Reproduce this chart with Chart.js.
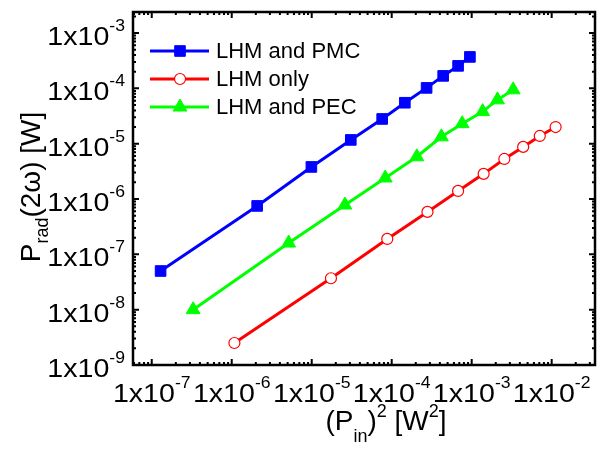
<!DOCTYPE html>
<html>
<head>
<meta charset="utf-8">
<script src="https://cdn.jsdelivr.net/npm/chart.js@4/dist/chart.umd.min.js"></script>
<style>
  html, body { margin: 0; padding: 0; background: #fff; }
  #wrap { width: 604px; height: 450px; }
</style>
</head>
<body>
<div id="wrap"><canvas id="c" width="604" height="450"></canvas></div>
<script>
// data: (P_in)^2 [W^2] vs P_rad(2w) [W]
const pmcX = [1.29e-7, 2.08e-6, 9.9e-6, 3.08e-5, 7.6e-5, 1.46e-4, 2.73e-4, 4.4e-4, 6.76e-4, 9.5e-4];
const pmcY = [5.0e-8, 7.5e-7, 3.8e-6, 1.17e-5, 2.8e-5, 5.5e-5, 1.02e-4, 1.68e-4, 2.55e-4, 3.7e-4];

const onlyX = [1.08e-6, 1.74e-5, 8.8e-5, 2.8e-4, 6.76e-4, 1.41e-3, 2.56e-3, 4.4e-3, 7.1e-3, 1.12e-2];
const onlyY = [2.5e-9, 3.7e-8, 1.9e-7, 5.85e-7, 1.4e-6, 2.85e-6, 5.3e-6, 8.75e-6, 1.38e-5, 2.0e-5];

const pecX = [3.29e-7, 5.15e-6, 2.6e-5, 8.3e-5, 2.06e-4, 4.18e-4, 7.6e-4, 1.37e-3, 2.1e-3, 3.3e-3];
const pecY = [1.0e-8, 1.6e-7, 7.8e-7, 2.4e-6, 5.8e-6, 1.33e-5, 2.3e-5, 3.8e-5, 6.2e-5, 9.4e-5];

const seriesNames = ['LHM and PMC', 'LHM only', 'LHM and PEC'];
const xTickExps = [-7, -6, -5, -4, -3, -2];
const yTickExps = [-9, -8, -7, -6, -5, -4, -3];

const FONT = '"Liberation Sans", Arial, Helvetica, sans-serif';

function pts(xs, ys) {
    return xs.map((x, i) => ({ x: x, y: ys[i] }));
}

// draws a list of text pieces [{t, size, dy}] one after another,
// sx stretches the text sideways (the tick labels in the figure are a bit wide)
function richWidth(ctx, parts) {
    let w = 0;
    parts.forEach(p => {
        ctx.font = p.size + 'px ' + FONT;
        w += ctx.measureText(p.t).width;
    });
    return w;
}
function drawRich(ctx, parts, x, y, align, sx) {
    sx = sx || 1;
    const w = richWidth(ctx, parts) * sx;
    let x0 = x;
    if (align === 'center') x0 = x - w / 2;
    if (align === 'right') x0 = x - w;
    ctx.save();
    ctx.translate(x0, y);
    ctx.scale(sx, 1);
    ctx.textAlign = 'left';
    ctx.textBaseline = 'alphabetic';
    let cx = 0;
    parts.forEach(p => {
        ctx.font = p.size + 'px ' + FONT;
        ctx.fillText(p.t, cx, p.dy || 0);
        cx += ctx.measureText(p.t).width;
    });
    ctx.restore();
}
function powLabel(e) {
    return [{ t: '1x10', size: 26 }, { t: String(e), size: 16, dy: -14 }];
}

const matlabFrame = {
    id: 'matlabFrame',
    afterDraw: function (chart) {
        const ctx = chart.ctx;
        const xs = chart.scales.x;
        const ys = chart.scales.y;
        const a = chart.chartArea;
        ctx.save();
        ctx.strokeStyle = '#000';
        ctx.fillStyle = '#000';

        // box
        ctx.lineWidth = 2.5;
        ctx.strokeRect(a.left, a.top, a.right - a.left, a.bottom - a.top);

        // inward ticks on all four sides
        ctx.lineWidth = 2;
        ctx.beginPath();
        for (let e = -9; e <= 0; e++) {
            for (let m = 1; m <= 9; m++) {
                const v = m * Math.pow(10, e);
                const len = m === 1 ? 6 : 3;
                if (v > xs.min && v < xs.max) {
                    const px = xs.getPixelForValue(v);
                    ctx.moveTo(px, a.bottom); ctx.lineTo(px, a.bottom - len);
                    ctx.moveTo(px, a.top); ctx.lineTo(px, a.top + len);
                }
                if (v > ys.min && v < ys.max) {
                    const py = ys.getPixelForValue(v);
                    ctx.moveTo(a.left, py); ctx.lineTo(a.left + len, py);
                    ctx.moveTo(a.right, py); ctx.lineTo(a.right - len, py);
                }
            }
        }
        ctx.stroke();

        // tick labels
        xTickExps.forEach(e => {
            const px = xs.getPixelForValue(Math.pow(10, e));
            drawRich(ctx, powLabel(e), px, 402, 'center', 1.1);
        });
        yTickExps.forEach(e => {
            const py = ys.getPixelForValue(Math.pow(10, e));
            drawRich(ctx, powLabel(e), 125, py + 12, 'right', 1.1);
        });

        // axis titles
        drawRich(ctx, [
            { t: '(P', size: 28 },
            { t: 'in', size: 18, dy: 12 },
            { t: ')', size: 28 },
            { t: '2', size: 18, dy: -13 },
            { t: ' [W', size: 28 },
            { t: '2', size: 18, dy: -13 },
            { t: ']', size: 28 }
        ], 386, 430, 'center');

        ctx.save();
        ctx.translate(40, 187);
        ctx.rotate(-Math.PI / 2);
        drawRich(ctx, [
            { t: 'P', size: 28 },
            { t: 'rad', size: 18, dy: 8 },
            { t: '(2\u03c9) [W]', size: 28 }
        ], 0, 0, 'center');
        ctx.restore();

        // legend, drawn like the matlab one: line with marker in the middle
        chart.data.datasets.forEach((ds, i) => {
            const ly = 51 + i * 28;
            ctx.strokeStyle = ds.borderColor;
            ctx.lineWidth = ds.borderWidth;
            ctx.beginPath();
            ctx.moveTo(150, ly); ctx.lineTo(209, ly);
            ctx.stroke();
            ctx.fillStyle = ds.pointBackgroundColor;
            ctx.strokeStyle = ds.pointBorderColor;
            ctx.lineWidth = ds.pointBorderWidth;
            Chart.helpers.drawPoint(ctx, {
                pointStyle: ds.pointStyle,
                radius: ds.pointRadius,
                rotation: 0,
                borderWidth: ds.pointBorderWidth
            }, 180, ly);
            ctx.fillStyle = '#000';
            ctx.font = '22px ' + FONT;
            ctx.textAlign = 'left';
            ctx.textBaseline = 'middle';
            ctx.fillText(ds.label, 216, ly + 1);
        });
        ctx.restore();
    }
};

new Chart(document.getElementById('c').getContext('2d'), {
    type: 'scatter',
    data: {
        datasets: [
            {
                label: seriesNames[0],
                data: pts(pmcX, pmcY),
                showLine: true,
                borderColor: '#0000ff',
                borderWidth: 3,
                pointStyle: 'rect',
                pointRadius: 7.5,
                pointBackgroundColor: '#0000ff',
                pointBorderColor: '#0000ff',
                pointBorderWidth: 1
            },
            {
                label: seriesNames[1],
                data: pts(onlyX, onlyY),
                showLine: true,
                borderColor: '#ff0000',
                borderWidth: 3,
                pointStyle: 'circle',
                pointRadius: 5.5,
                pointBackgroundColor: '#ffffff',
                pointBorderColor: '#ff0000',
                pointBorderWidth: 1.2
            },
            {
                label: seriesNames[2],
                data: pts(pecX, pecY),
                showLine: true,
                borderColor: '#00ff00',
                borderWidth: 3,
                pointStyle: 'triangle',
                pointRadius: 8,
                pointBackgroundColor: '#00ff00',
                pointBorderColor: '#00ff00',
                pointBorderWidth: 1
            }
        ]
    },
    options: {
        responsive: false,
        animation: false,
        layout: {
            padding: { left: 133, right: 3, top: 12, bottom: 85 }
        },
        scales: {
            x: { type: 'logarithmic', min: 5.83e-8, max: 3.48e-2, display: false },
            y: { type: 'logarithmic', min: 1e-9, max: 2.4e-3, display: false }
        },
        plugins: {
            legend: { display: false },
            tooltip: { enabled: false }
        }
    },
    plugins: [matlabFrame]
});
</script>
</body>
</html>
